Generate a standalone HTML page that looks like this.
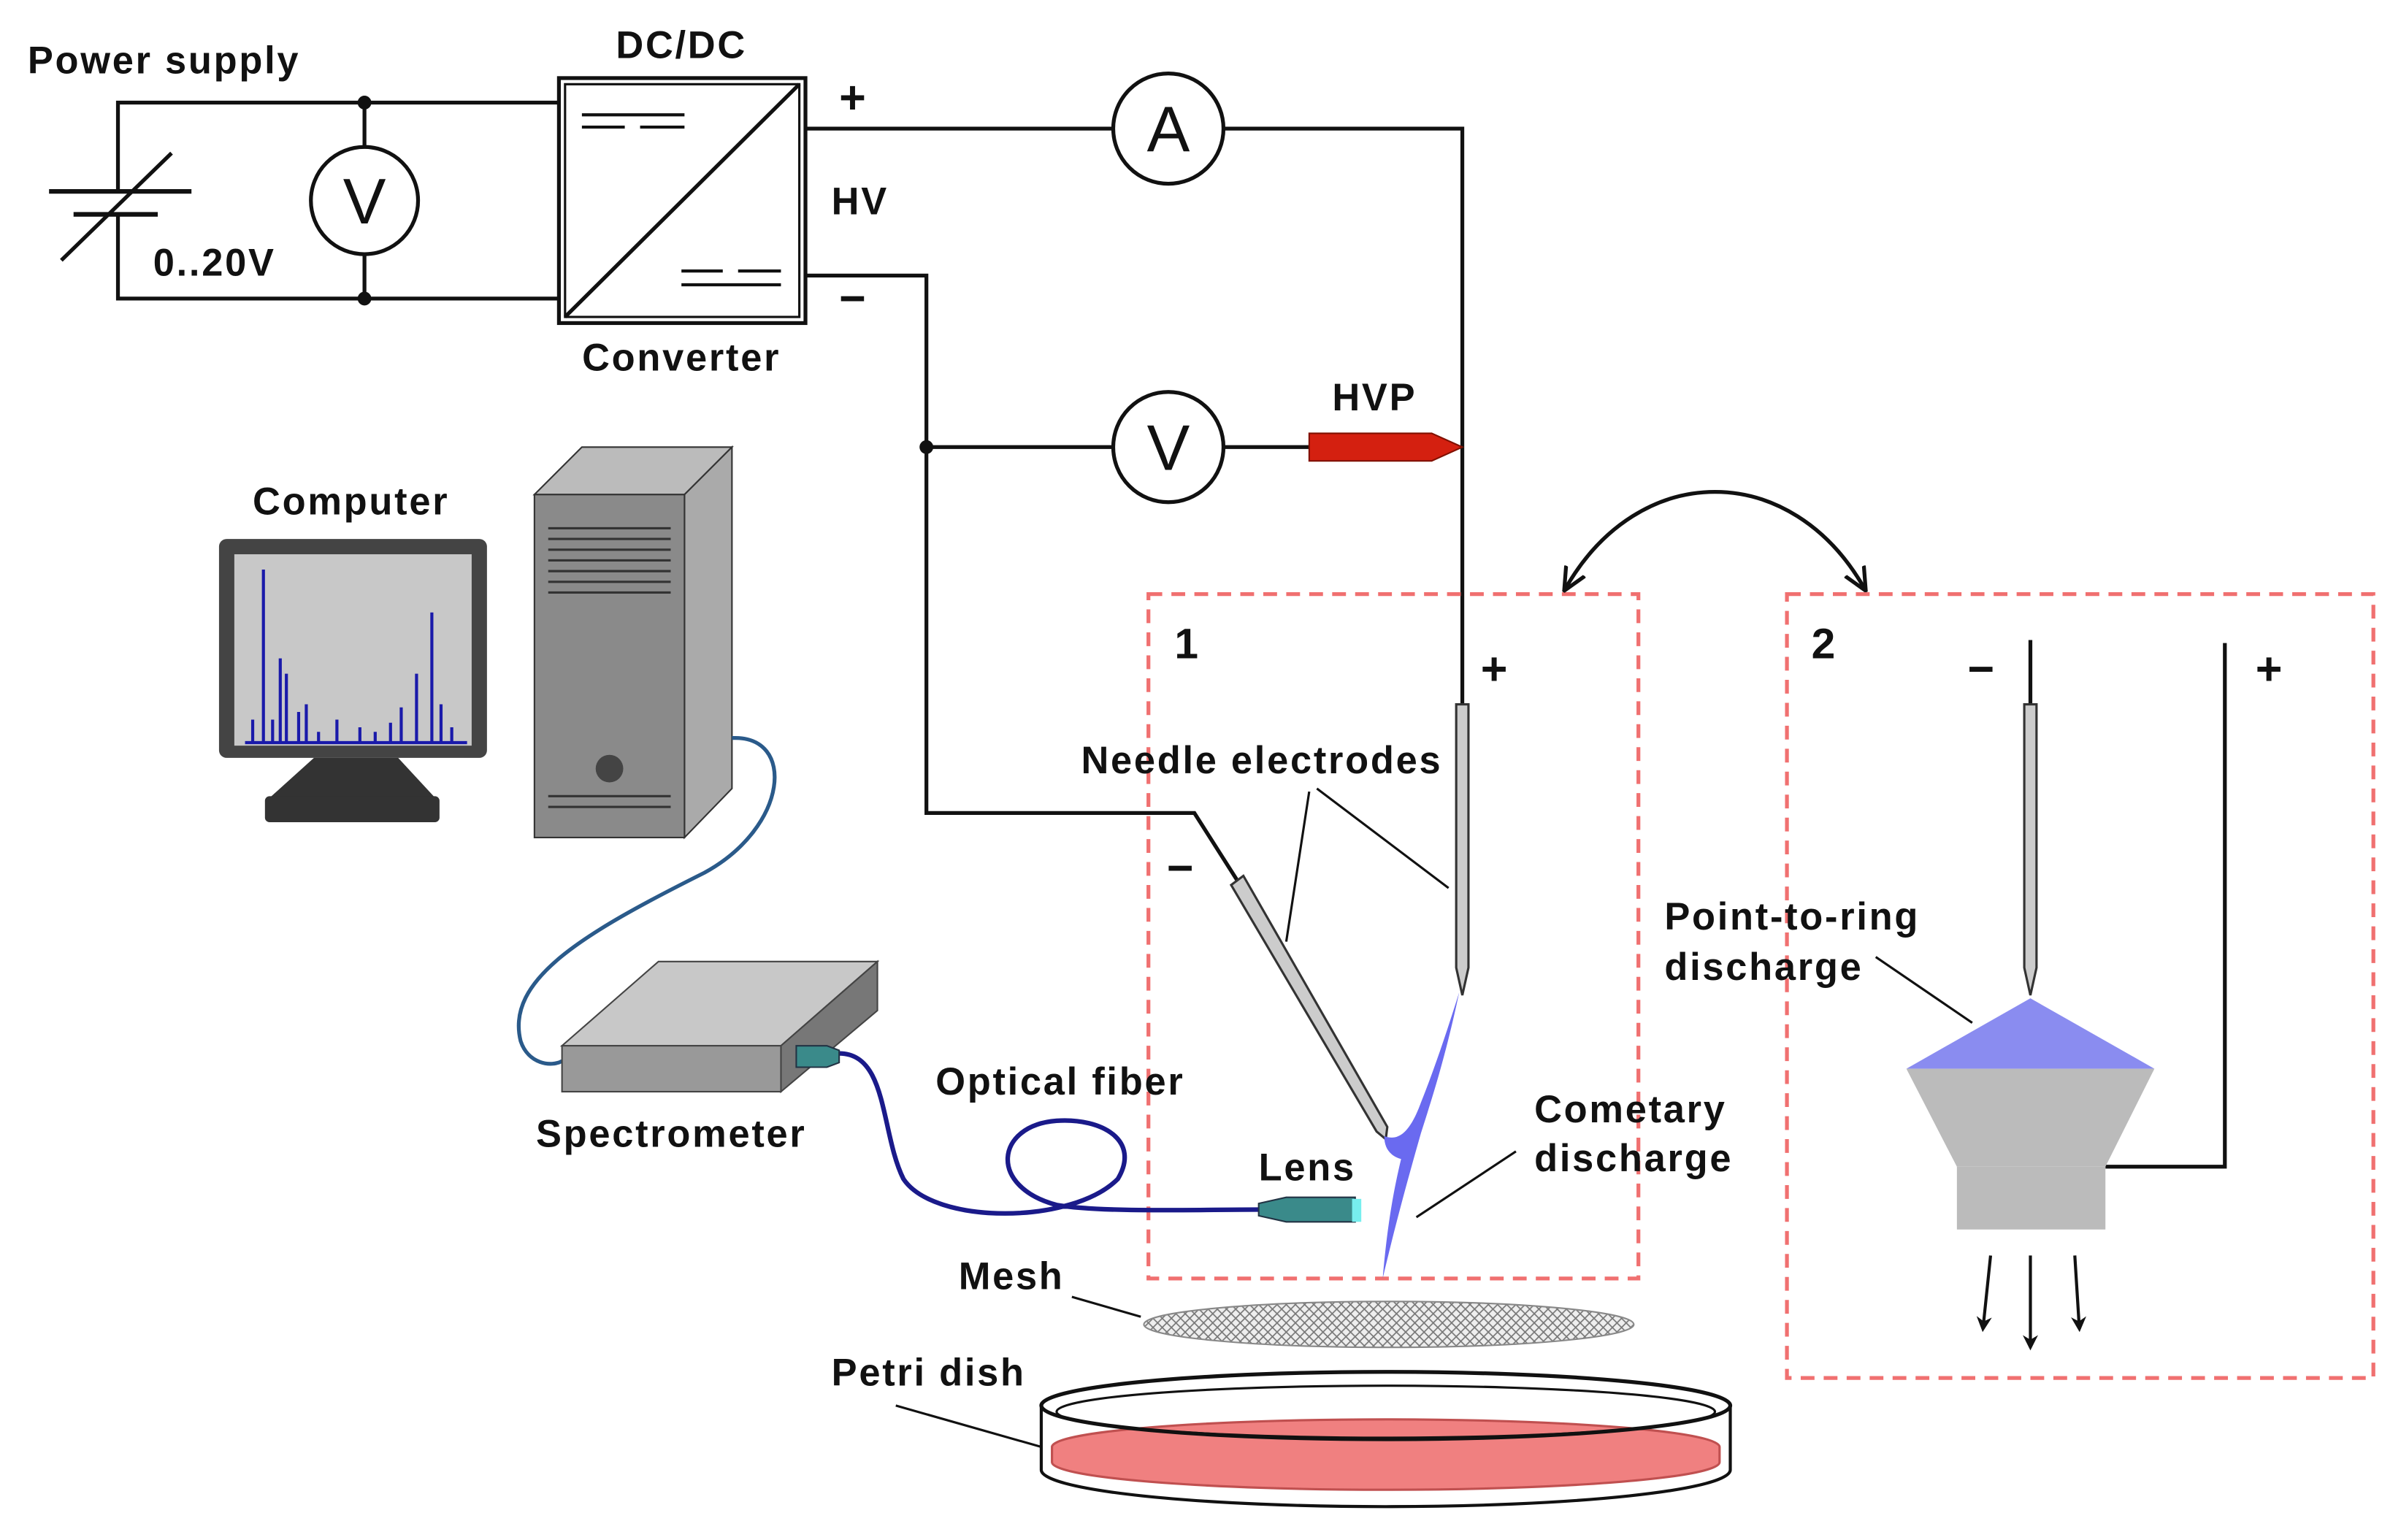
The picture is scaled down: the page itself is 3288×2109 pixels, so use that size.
<!DOCTYPE html>
<html><head><meta charset="utf-8"><style>
html,body{margin:0;padding:0;background:#fff;}
svg{display:block;}
text{font-family:"Liberation Sans",Arial,sans-serif;font-weight:bold;font-size:25px;letter-spacing:1.3px;fill:#111;}
</style></head><body>
<svg width="3288" height="2109" viewBox="0 0 1568 1005.8" xmlns="http://www.w3.org/2000/svg">
<defs>
<pattern id="hatch" width="6" height="6" patternUnits="userSpaceOnUse">
<rect width="6" height="6" fill="#eee"/>
<path d="M0,6 L6,0 M0,0 L6,6" stroke="#777" stroke-width="0.8"/>
</pattern>
<marker id="ah" markerWidth="10" markerHeight="10" refX="8" refY="5" orient="auto" markerUnits="userSpaceOnUse">
<path d="M0,0 L10,5 L0,10 L3,5 Z" fill="#111"/></marker>
<marker id="ah2" markerWidth="16" markerHeight="16" refX="14" refY="8" orient="auto-start-reverse" markerUnits="userSpaceOnUse">
<path d="M0,1 L15,8 L0,15" fill="none" stroke="#111" stroke-width="2.5"/></marker>
</defs>
<g stroke="#111" stroke-width="2.5" fill="none">
<path d="M365,67 H77 V125 M77,140 V195 H365"/>
<path d="M32,125 H125" stroke-width="3"/>
<path d="M48,140 H103" stroke-width="3"/>
<path d="M40,170 L112,100" />
<path d="M238,67 V96 M238,166 V195"/>
<circle cx="238" cy="131" r="35" fill="#fff"/>
<rect x="365" y="51" width="161" height="160"/>
<rect x="369" y="55" width="153" height="152" stroke-width="1.5"/>
<path d="M369,207 L522,55"/>
<path d="M380,75 H447 M380,83 H408 M418,83 H447" stroke-width="2"/>
<path d="M445,177 H472 M482,177 H510 M445,186 H510" stroke-width="2"/>
<path d="M526,84 H727 M799,84 H955 V460"/>
<circle cx="763" cy="84" r="36" fill="#fff"/>
<path d="M526,180 H605 V531 H780 L808,575"/>
<path d="M605,292 H727 M799,292 H855"/>
<circle cx="763" cy="292" r="36" fill="#fff"/>
</g>
<circle cx="238" cy="67" r="4.5" fill="#111"/>
<circle cx="238" cy="195" r="4.5" fill="#111"/>
<circle cx="605" cy="292" r="4.5" fill="#111"/>
<text x="238" y="146" text-anchor="middle" style="font-weight:normal;font-size:42px;letter-spacing:0">V</text>
<text x="763" y="99" text-anchor="middle" style="font-weight:normal;font-size:42px;letter-spacing:0">A</text>
<text x="763" y="307" text-anchor="middle" style="font-weight:normal;font-size:42px;letter-spacing:0">V</text>
<path d="M855,283 H935 L955,292 L935,301 H855 Z" fill="#d42010" stroke="#801000" stroke-width="1"/>
<text x="18" y="48">Power supply</text>
<text x="100" y="180">0..20V</text>
<text x="445" y="38" text-anchor="middle">DC/DC</text>
<text x="445" y="242" text-anchor="middle">Converter</text>
<text x="548" y="74" style="font-size:30px">+</text>
<text x="543" y="140">HV</text>
<text x="548" y="205" style="font-size:30px">−</text>
<text x="870" y="268">HVP</text>
<rect x="750" y="388" width="320" height="447" fill="none" stroke="#f07070" stroke-width="2.5" stroke-dasharray="9,6"/>
<text x="767" y="430" style="font-size:28px">1</text>
<text x="967" y="447" style="font-size:30px">+</text>
<text x="762" y="577" style="font-size:30px">−</text>
<path d="M951,460 H959 V632 L955,650 L951,632 Z" fill="#ccc" stroke="#333" stroke-width="1.5"/>
<path d="M804,578 L812,572 L906,736 L905,744 L899,739 Z" fill="#ccc" stroke="#333" stroke-width="1.5"/>
<path d="M953,648 C944,690 936,715 928,740 C918,775 910,805 903,835 C906,800 910,778 915,757 C908,755 904,750 904,742 C912,745 920,742 928,720 C938,695 946,670 953,648 Z" fill="#6a6af0"/>
<path d="M855,517 L840,615 M860,515 L946,580" stroke="#111" stroke-width="1.5" fill="none"/>
<text x="706" y="505">Needle electrodes</text>
<text x="1002" y="733">Cometary</text>
<text x="1002" y="765">discharge</text>
<path d="M990,752 L925,795" stroke="#111" stroke-width="1.5"/>
<path d="M1022,385 C1070,300 1170,300 1218,385" fill="none" stroke="#111" stroke-width="2.5" marker-start="url(#ah2)" marker-end="url(#ah2)"/>
<rect x="1167" y="388" width="383" height="512" fill="none" stroke="#f07070" stroke-width="2.5" stroke-dasharray="9,6"/>
<text x="1183" y="430" style="font-size:28px">2</text>
<text x="1285" y="447" style="font-size:30px">−</text>
<text x="1473" y="447" style="font-size:30px">+</text>
<path d="M1326,418 V460" stroke="#111" stroke-width="2.5"/>
<path d="M1322,460 H1330 V632 L1326,650 L1322,632 Z" fill="#ccc" stroke="#333" stroke-width="1.5"/>
<path d="M1453,420 V762 H1375" fill="none" stroke="#111" stroke-width="2.5"/>
<path d="M1326,652 L1407,698 L1245,698 Z" fill="#8a8cf0"/>
<path d="M1245,698 L1407,698 L1375,762 L1278,762 Z" fill="#bbb"/>
<rect x="1278" y="762" width="97" height="41" fill="#bbb"/>
<g stroke="#111" stroke-width="2" marker-end="url(#ah)">
<path d="M1300,820 L1295,868"/><path d="M1326,820 L1326,880"/><path d="M1355,820 L1358,868"/>
</g>
<text x="1087" y="607">Point-to-ring</text>
<text x="1087" y="640">discharge</text>
<path d="M1225,625 L1288,668" stroke="#111" stroke-width="1.5"/>
<ellipse cx="907" cy="865" rx="160" ry="15" fill="url(#hatch)" stroke="#888" stroke-width="1"/>
<text x="626" y="842">Mesh</text>
<path d="M700,847 L745,860" stroke="#111" stroke-width="1.5"/>
<path d="M680,918 V960 A225,24 0 0 0 1130,960 V918" fill="#fff" stroke="#111" stroke-width="2"/>
<path d="M687,945 A218,18 0 0 1 1123,945 V955 A218,18 0 0 1 687,955 Z" fill="#f08080" stroke="#c05050" stroke-width="1.5"/>
<ellipse cx="905" cy="918" rx="225" ry="22" fill="none" stroke="#111" stroke-width="2.5"/>
<ellipse cx="905" cy="922" rx="215" ry="17" fill="none" stroke="#111" stroke-width="1.5"/>
<text x="543" y="905">Petri dish</text>
<path d="M585,918 L680,945" stroke="#111" stroke-width="1.5"/>
<text x="165" y="336">Computer</text>
<rect x="143" y="352" width="175" height="143" rx="5" fill="#444"/>
<rect x="153" y="362" width="155" height="125" fill="#c8c8c8"/>
<path d="M160,485 H305 M172,485 V372 M183,485 V430 M187,485 V440 M165,485 V470 M195,485 V465 M200,485 V460 M220,485 V470 M235,485 V475 M262,485 V462 M272,485 V440 M282,485 V400 M288,485 V460 M295,485 V475 M178,485 V470 M208,485 V478 M245,485 V478 M255,485 V472" stroke="#1a1aaa" stroke-width="2"/>
<path d="M205,495 H260 L285,522 H175 Z" fill="#333"/>
<rect x="173" y="520" width="114" height="17" rx="3" fill="#333"/>
<path d="M349,323 L380,292 H478 L447,323 Z" fill="#bbb" stroke="#333" stroke-width="1"/>
<path d="M447,323 L478,292 V515 L447,547 Z" fill="#aaa" stroke="#333" stroke-width="1"/>
<rect x="349" y="323" width="98" height="224" fill="#8a8a8a" stroke="#333" stroke-width="1"/>
<path d="M358,345 H438 M358,352 H438 M358,359 H438 M358,366 H438 M358,373 H438 M358,380 H438 M358,387 H438 M358,520 H438 M358,527 H438" stroke="#333" stroke-width="1.5"/>
<circle cx="398" cy="502" r="9" fill="#444"/>
<path d="M478,482 C520,480 515,540 460,570 C380,610 330,640 340,680 C345,695 360,697 367,693" fill="none" stroke="#2a5a8a" stroke-width="2.5"/>
<path d="M367,683 L430,628 H573 L510,683 Z" fill="#c8c8c8" stroke="#444" stroke-width="1"/>
<path d="M510,683 L573,628 V660 L510,713 Z" fill="#777" stroke="#444" stroke-width="1"/>
<rect x="367" y="683" width="143" height="30" fill="#999" stroke="#444" stroke-width="1"/>
<text x="350" y="749">Spectrometer</text>
<path d="M548,688 C580,688 575,740 590,770 C610,800 700,800 730,770 C745,745 720,730 690,732 C650,735 645,775 690,787 C720,792 780,790 822,790" fill="none" stroke="#1a1a8a" stroke-width="3"/>
<path d="M520,683 H540 L548,686 V694 L540,697 H520 Z" fill="#3a8a8a" stroke="#234" stroke-width="1"/>
<path d="M822,786 L840,782 H885 V798 H840 L822,794 Z" fill="#3a8a8a" stroke="#234" stroke-width="1"/>
<rect x="883" y="783" width="6" height="15" fill="#7ee"/>
<text x="611" y="715">Optical fiber</text>
<text x="822" y="771">Lens</text>
</svg>
</body></html>
